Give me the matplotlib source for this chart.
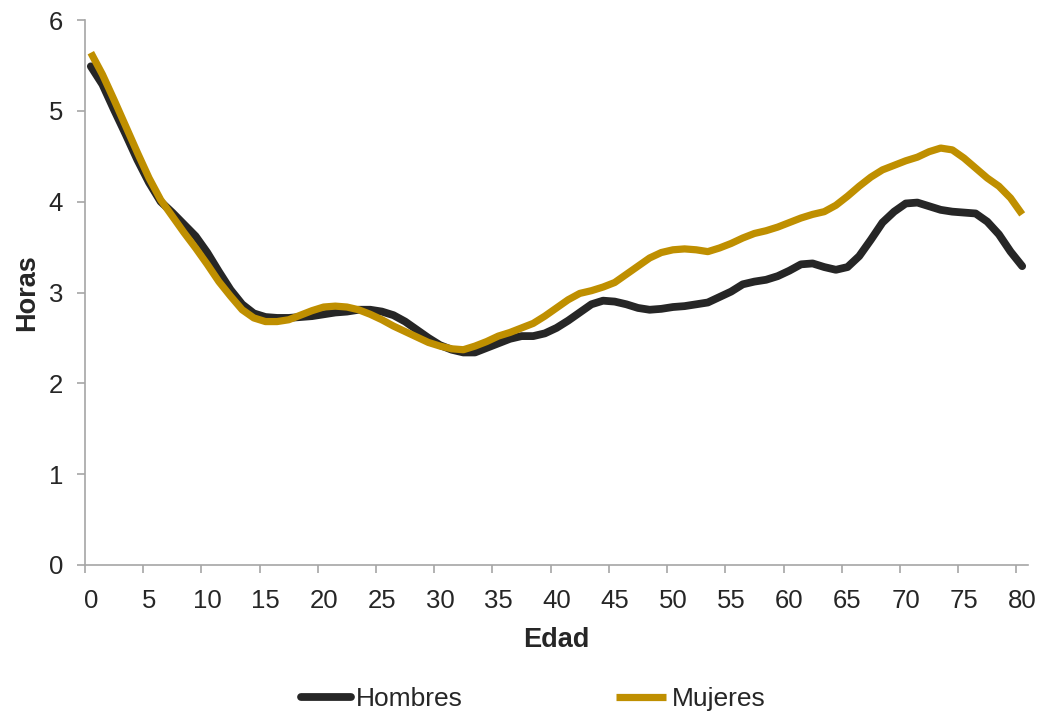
import matplotlib
matplotlib.use("Agg")
import matplotlib.pyplot as plt
from matplotlib.ticker import FixedLocator, NullFormatter

# ==============================
# DATA (horas por edad)
# ==============================

edad = list(range(81))

hombres = [
    5.49, 5.29, 5.01, 4.74, 4.46, 4.21, 4.00, 3.88, 3.75, 3.62,
    3.44, 3.23, 3.03, 2.87, 2.77, 2.73, 2.72, 2.72, 2.73, 2.74,
    2.76, 2.78, 2.79, 2.81, 2.81, 2.79, 2.75, 2.68, 2.59, 2.50,
    2.42, 2.37, 2.34, 2.34, 2.39, 2.44, 2.49, 2.52, 2.52, 2.55,
    2.61, 2.69, 2.78, 2.87, 2.91, 2.90, 2.87, 2.83, 2.81, 2.82,
    2.84, 2.85, 2.87, 2.89, 2.95, 3.01, 3.09, 3.12, 3.14, 3.18,
    3.24, 3.31, 3.32, 3.28, 3.25, 3.28, 3.40, 3.58, 3.77, 3.89,
    3.98, 3.99, 3.95, 3.91, 3.89, 3.88, 3.87, 3.78, 3.64, 3.45,
    3.29,
]

mujeres = [
    5.64, 5.40, 5.12, 4.83, 4.54, 4.26, 4.02, 3.84, 3.66, 3.49,
    3.31, 3.12, 2.96, 2.81, 2.72, 2.68, 2.68, 2.70, 2.75, 2.80,
    2.84, 2.85, 2.84, 2.81, 2.76, 2.70, 2.63, 2.57, 2.51, 2.45,
    2.41, 2.38, 2.37, 2.41, 2.46, 2.52, 2.56, 2.61, 2.66, 2.74,
    2.83, 2.92, 2.99, 3.02, 3.06, 3.11, 3.20, 3.29, 3.38, 3.44,
    3.47, 3.48, 3.47, 3.45, 3.49, 3.54, 3.60, 3.65, 3.68, 3.72,
    3.77, 3.82, 3.86, 3.89, 3.96, 4.06, 4.17, 4.27, 4.35, 4.40,
    4.45, 4.49, 4.55, 4.59, 4.57, 4.48, 4.37, 4.26, 4.17, 4.04,
    3.86,
]

x_labels = list(range(0, 81, 5))
y_ticks = [0, 1, 2, 3, 4, 5, 6]

# ==============================
# STYLE
# ==============================

plt.rcParams['font.family'] = ['Liberation Sans', 'DejaVu Sans']
text_color = '#262626'
axis_color = '#a6a6a6'
black = '#262626'
gold = '#bf8f00'

fig = plt.figure(figsize=(10.4, 7.13), dpi=100)
ax = fig.add_axes([85 / 1040, 1 - 565 / 713, 943 / 1040, 545 / 713])

ax.plot(edad, hombres, color=black, linewidth=5.6,
        solid_capstyle='round', solid_joinstyle='round', label='Hombres')
ax.plot(edad, mujeres, color=gold, linewidth=5.2,
        solid_capstyle='butt', solid_joinstyle='round', label='Mujeres')

ax.set_xlim(-0.5, 80.5)
ax.set_ylim(0, 6)

# ==============================
# AXES
# ==============================

for side in ['top', 'right']:
    ax.spines[side].set_visible(False)
for side in ['left', 'bottom']:
    ax.spines[side].set_color(axis_color)
    ax.spines[side].set_linewidth(1.2)

# tick marks at category boundaries, labels at category centres
ax.xaxis.set_major_locator(FixedLocator([v - 0.5 for v in x_labels]))
ax.xaxis.set_major_formatter(NullFormatter())
ax.set_xticks(x_labels, [str(v) for v in x_labels], minor=True)
ax.tick_params(axis='x', which='major', length=5.8, width=1.2,
               color=axis_color, direction='out')
ax.tick_params(axis='x', which='minor', length=0, pad=17,
               labelsize=18.5, labelcolor=text_color)

ax.set_yticks(y_ticks)
ax.tick_params(axis='y', length=5.8, width=1.2, color=axis_color,
               direction='out', pad=10, labelsize=18.5,
               labelcolor=text_color)

ax.set_xlabel('Edad', fontsize=19.5, fontweight='bold', color=text_color)
ax.set_ylabel('Horas', fontsize=19.5, fontweight='bold', color=text_color)
ax.xaxis.set_label_coords(0.5, -0.113)
ax.yaxis.set_label_coords(-0.048, 0.5)

# ==============================
# LEGEND
# ==============================

fig.legend(loc='center', bbox_to_anchor=(533 / 1040, 1 - 699 / 713),
           ncol=2, frameon=False, fontsize=19, labelcolor=text_color,
           handlelength=1.9, handletextpad=0.2, columnspacing=5.8)

fig.savefig('out.png', dpi=100)
